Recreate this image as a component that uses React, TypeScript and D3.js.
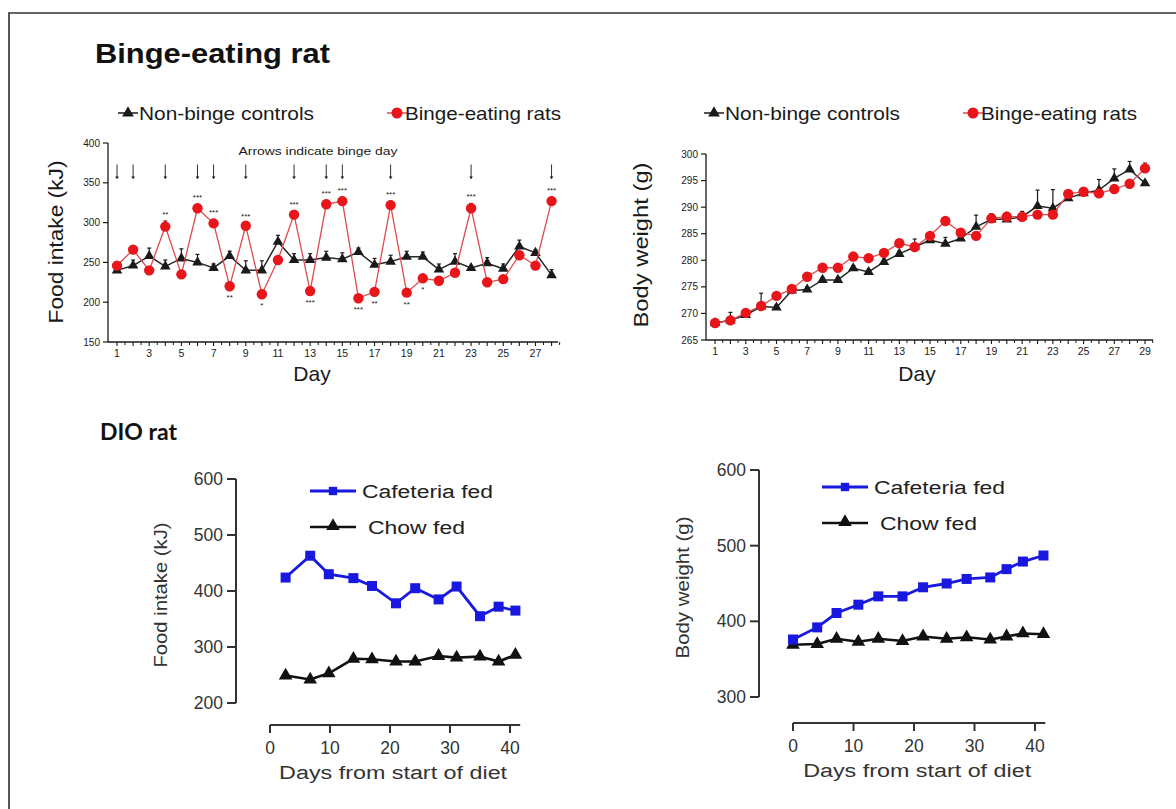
import React from 'react';
import * as d3 from 'd3';

// ---- Binge-eating rat: daily food intake (kJ), days 1-28
const intakeControl = [240, 246, 258, 245, 255, 250, 243, 258, 240, 240, 276, 253, 253, 256, 254, 263, 247, 251, 257, 257, 241, 251, 243, 249, 242, 270, 262, 234];
const intakeControlErr = [4, 7, 10, 8, 12, 10, 5, 6, 12, 12, 8, 8, 8, 8, 8, 5, 8, 8, 7, 6, 7, 10, 3, 7, 6, 8, 4, 7];
const intakeBinge = [246, 266, 240, 295, 235, 318, 299, 220, 296, 210, 253, 310, 214, 323, 327, 205, 213, 322, 212, 230, 227, 237, 318, 225, 229, 259, 246, 327];
const intakeBingeErr = [3, 3, 3, 7, 3, 5, 5, 3, 4, 3, 3, 5, 3, 5, 5, 3, 3, 5, 3, 3, 3, 3, 6, 3, 3, 3, 3, 5];
const bingeDays = [1, 2, 4, 6, 7, 9, 12, 14, 15, 18, 23, 28];
const sigDays = [4, 6, 7, 8, 9, 10, 12, 13, 14, 15, 16, 17, 18, 19, 20, 23, 28];
const sigLabels = ['**', '***', '***', '**', '***', '*', '***', '***', '***', '***', '***', '**', '***', '**', '*', '***', '***'];
const intakeTicks = [150, 200, 250, 300, 350, 400];

// ---- Binge-eating rat: body weight (g), days 1-29
const weightControl = [268.2, 268.7, 269.7, 271.3, 271.1, 274.3, 274.5, 276.3, 276.3, 278.5, 277.8, 279.7, 281.2, 282.5, 283.8, 283.1, 284.1, 286.3, 287.7, 287.7, 288.2, 290.2, 289.8, 291.7, 292.6, 293.2, 295.4, 297.1, 294.5];
const weightControlErr = [0.3, 1.5, 0.5, 2.5, 0.5, 0.5, 0.5, 0.5, 0.5, 0.5, 0.5, 0.5, 0.5, 1.5, 0.6, 1.2, 0.5, 2.2, 1, 1.3, 1, 3, 3.5, 1, 1, 2, 1.8, 1.5, 0.5];
const weightBinge = [268.2, 268.7, 270.1, 271.4, 273.3, 274.6, 276.9, 278.6, 278.6, 280.7, 280.4, 281.4, 283.2, 282.5, 284.6, 287.4, 285.2, 284.6, 287.9, 288.2, 288.2, 288.6, 288.6, 292.5, 292.9, 292.6, 293.4, 294.4, 297.3];
const weightBingeErr = [0.3, 0.5, 0.5, 0.5, 0.5, 0.5, 0.5, 0.5, 0.5, 0.6, 0.6, 0.6, 0.6, 0.5, 0.6, 0.6, 0.5, 0.5, 0.8, 0.8, 0.5, 0.5, 0.5, 0.6, 0.6, 0.5, 0.5, 0.5, 1];
const weightTicks = [265, 270, 275, 280, 285, 290, 295, 300];

// ---- DIO rat
const dioIntakeDays = [2.6, 6.7, 9.8, 13.9, 17, 21, 24.2, 28.1, 31.1, 35, 38.1, 40.9];
const dioIntakeCafeteria = [424, 463, 430, 423, 409, 378, 405, 385, 408, 355, 372, 365];
const dioIntakeChow = [249, 242, 253, 279, 278, 274, 274, 284, 281, 283, 274, 286];
const dioWeightDays = [0, 4, 7.2, 10.8, 14.1, 18.1, 21.5, 25.4, 28.7, 32.6, 35.3, 38, 41.4];
const dioWeightCafeteria = [376, 392, 411, 422, 433, 433, 445, 450, 456, 458, 469, 479, 487];
const dioWeightChow = [369, 370, 377, 373, 377, 374, 380, 377, 379, 376, 380, 384, 383];
const dioIntakeTicks = [200, 300, 400, 500, 600];
const dioWeightTicks = [300, 400, 500, 600];
const dioDayTicks = [0, 10, 20, 30, 40];

const sans = '"Liberation Sans", Arial, sans-serif';
const RED = '#e8151b';
const RED_LINE = '#df4a4e';
const BLUE = '#1818e0';
const INK = '#1a1a1a';

const tri = (size: number) => d3.symbol().type(d3.symbolTriangle).size(size)() as string;
const sq = (size: number) => d3.symbol().type(d3.symbolSquare).size(size)() as string;

type Sc = d3.ScaleLinear<number, number>;

function BingeSeries({ x, y, vals, errs, kind }: { x: Sc; y: Sc; vals: number[]; errs: number[]; kind: 'tri' | 'dot' }) {
  const color = kind === 'tri' ? INK : RED;
  const barColor = kind === 'tri' ? INK : '#7a1010';
  const line = d3.line<number>().x((_, i) => x(i + 1)).y((d) => y(d));
  return (
    <g>
      <path d={line(vals) as string} fill="none" stroke={kind === 'tri' ? '#262626' : RED_LINE} strokeWidth={kind === 'tri' ? 1.5 : 1.3} />
      {vals.map((v, i) => (
        <g key={i}>
          <line x1={x(i + 1)} x2={x(i + 1)} y1={y(v)} y2={y(v + errs[i])} stroke={barColor} strokeWidth={1.2} />
          <line x1={x(i + 1) - 2} x2={x(i + 1) + 2} y1={y(v + errs[i])} y2={y(v + errs[i])} stroke={barColor} strokeWidth={1.2} />
        </g>
      ))}
      {vals.map((v, i) =>
        kind === 'tri' ? (
          <path key={'m' + i} d={tri(48)} transform={`translate(${x(i + 1)},${y(v)})`} fill={color} />
        ) : (
          <circle key={'m' + i} cx={x(i + 1)} cy={y(v)} r={5.2} fill={color} />
        )
      )}
    </g>
  );
}

function BingeAxes({ x, y, yTicks, nDays, xEnd }: { x: Sc; y: Sc; yTicks: number[]; nDays: number; xEnd: number }) {
  const [y0, y1] = y.domain();
  const x0 = x.range()[0];
  const days = d3.range(1, nDays + 1);
  return (
    <g fontFamily={sans} fill={INK}>
      <line x1={x0} x2={x0} y1={y(y0)} y2={y(y1)} stroke={INK} strokeWidth={1.3} />
      <line x1={x0} x2={x(xEnd)} y1={y(y0)} y2={y(y0)} stroke={INK} strokeWidth={1.3} />
      {yTicks.map((t) => (
        <g key={t}>
          <line x1={x0 - 5} x2={x0} y1={y(t)} y2={y(t)} stroke={INK} strokeWidth={1.2} />
          <text x={x0 - 8} y={y(t) + 3.5} fontSize={10} textAnchor="end">{t}</text>
        </g>
      ))}
      {days.map((d) => (
        <g key={d}>
          <line x1={x(d)} x2={x(d)} y1={y(y0)} y2={y(y0) + 4} stroke={INK} strokeWidth={1.1} />
          <line x1={x(d + 0.5)} x2={x(d + 0.5)} y1={y(y0)} y2={y(y0) + 3} stroke={INK} strokeWidth={1} />
          {d % 2 === 1 && (
            <text x={x(d)} y={y(y0) + 15} fontSize={10.5} textAnchor="middle">{d}</text>
          )}
        </g>
      ))}
    </g>
  );
}

function BingeLegend({ cx, bx, ly }: { cx: number; bx: number; ly: number }) {
  return (
    <g fontFamily={sans} fontSize={19} fill={INK}>
      <line x1={cx - 10} x2={cx + 10} y1={ly} y2={ly} stroke={INK} strokeWidth={1.5} />
      <path d={tri(60)} transform={`translate(${cx},${ly})`} fill={INK} />
      <text x={cx + 11} y={ly + 7} textLength={175} lengthAdjust="spacingAndGlyphs">Non-binge controls</text>
      <line x1={bx - 10} x2={bx + 10} y1={ly} y2={ly} stroke={RED_LINE} strokeWidth={1.5} />
      <circle cx={bx} cy={ly} r={5.5} fill={RED} />
      <text x={bx + 8} y={ly + 7} textLength={156} lengthAdjust="spacingAndGlyphs">Binge-eating rats</text>
    </g>
  );
}

function DioPanel({ x, y, days, caf, chow, yTicks, yLabel, yLabelX, yLabelLen, xAxisY, xEnd, legX, legY }: {
  x: Sc; y: Sc; days: number[]; caf: number[]; chow: number[]; yTicks: number[]; yLabel: string; yLabelX: number; yLabelLen: number; xAxisY: number; xEnd: number; legX: number; legY: number;
}) {
  const [yMin, yMax] = y.domain();
  const ax = x.range()[0] - 34;
  const line = d3.line<number>().x((_, i) => x(days[i])).y((d) => y(d));
  const gray = '#333';
  const xMid = (x.range()[0] + x(xEnd)) / 2;
  return (
    <g fontFamily={sans} fill={gray}>
      <line x1={ax} x2={ax} y1={y(yMin)} y2={y(yMax)} stroke={gray} strokeWidth={2} />
      {yTicks.map((t) => (
        <g key={t}>
          <line x1={ax - 9} x2={ax} y1={y(t)} y2={y(t)} stroke={gray} strokeWidth={2} />
          <text x={ax - 13} y={y(t) + 6} fontSize={17.5} textAnchor="end">{t}</text>
        </g>
      ))}
      <line x1={x(0)} x2={x(xEnd)} y1={xAxisY} y2={xAxisY} stroke={gray} strokeWidth={2} />
      {dioDayTicks.map((t) => (
        <g key={t}>
          <line x1={x(t)} x2={x(t)} y1={xAxisY} y2={xAxisY + 8} stroke={gray} strokeWidth={2} />
          <text x={x(t)} y={xAxisY + 29} fontSize={17.5} textAnchor="middle">{t}</text>
        </g>
      ))}
      <text x={xMid - 2} y={xAxisY + 54} fontSize={18} textAnchor="middle" textLength={228} lengthAdjust="spacingAndGlyphs">Days from start of diet</text>
      <text transform={`translate(${yLabelX},${(y(yMin) + y(yMax)) / 2 + 4}) rotate(-90)`} fontSize={18} textAnchor="middle" textLength={yLabelLen} lengthAdjust="spacingAndGlyphs">{yLabel}</text>

      <path d={line(chow) as string} fill="none" stroke="#111" strokeWidth={2.6} />
      {chow.map((v, i) => (
        <path key={'c' + i} d={tri(80)} transform={`translate(${x(days[i])},${y(v)})`} fill="#111" />
      ))}
      <path d={line(caf) as string} fill="none" stroke={BLUE} strokeWidth={2.8} />
      {caf.map((v, i) => (
        <path key={'f' + i} d={sq(100)} transform={`translate(${x(days[i])},${y(v)})`} fill={BLUE} />
      ))}

      <line x1={legX - 23} x2={legX + 23} y1={legY} y2={legY} stroke={BLUE} strokeWidth={2.8} />
      <path d={sq(70)} transform={`translate(${legX},${legY})`} fill={BLUE} />
      <text x={legX + 29} y={legY + 6.5} fontSize={18} fill="#222" textLength={131} lengthAdjust="spacingAndGlyphs">Cafeteria fed</text>
      <line x1={legX - 23} x2={legX + 23} y1={legY + 36} y2={legY + 36} stroke="#111" strokeWidth={2.6} />
      <path d={tri(80)} transform={`translate(${legX},${legY + 35})`} fill="#111" />
      <text x={legX + 35} y={legY + 42.5} fontSize={18} fill="#222" textLength={97} lengthAdjust="spacingAndGlyphs">Chow fed</text>
    </g>
  );
}

export default function App() {
  // top-left: food intake
  const fx = d3.scaleLinear().domain([0.44, 28.4]).range([108, 558]);
  const fy = d3.scaleLinear().domain([150, 400]).range([342, 143]);
  // top-right: body weight
  const wx = d3.scaleLinear().domain([0.41, 29.52]).range([706, 1153]);
  const wy = d3.scaleLinear().domain([265, 300]).range([340, 154]);
  // bottom-left: DIO intake
  const dx1 = d3.scaleLinear().domain([0, 40]).range([270, 510]);
  const dy1 = d3.scaleLinear().domain([200, 600]).range([703, 479]);
  // bottom-right: DIO weight
  const dx2 = d3.scaleLinear().domain([0, 40]).range([793, 1035]);
  const dy2 = d3.scaleLinear().domain([300, 600]).range([697, 470]);

  return (
    <svg width={1176} height={809} style={{ position: 'absolute', left: 0, top: 0, background: '#fff' }}>
      <rect width={1176} height={809} fill="#fff" />
      {/* frame */}
      <line x1={8.5} x2={1176} y1={13} y2={13} stroke="#333" strokeWidth={1.6} />
      <line x1={9} x2={9} y1={12.5} y2={809} stroke="#444" strokeWidth={1.8} />

      <text x={95} y={63} fontFamily={sans} fontWeight="bold" fontSize={27} fill="#111" textLength={235} lengthAdjust="spacingAndGlyphs">Binge-eating rat</text>
      <text x={100} y={440} fontFamily='Lato, "Open Sans", sans-serif' fontWeight="bold" fontSize={23} fill="#111">DIO rat</text>

      {/* top-left: food intake */}
      <BingeLegend cx={128} bx={397} ly={113} />
      <BingeAxes x={fx} y={fy} yTicks={intakeTicks} nDays={28} xEnd={28.4} />
      <text x={318} y={155} fontFamily={sans} fontSize={11} fill={INK} textAnchor="middle" textLength={159} lengthAdjust="spacingAndGlyphs">Arrows indicate binge day</text>
      {bingeDays.map((d) => (
        <g key={d}>
          <line x1={fx(d)} x2={fx(d)} y1={fy(373)} y2={fy(357)} stroke={INK} strokeWidth={0.9} />
          <path d={`M${fx(d) - 1.8},${fy(358)}L${fx(d) + 1.8},${fy(358)}L${fx(d)},${fy(354.5)}Z`} fill={INK} />
        </g>
      ))}
      <BingeSeries x={fx} y={fy} vals={intakeControl} errs={intakeControlErr} kind="tri" />
      <BingeSeries x={fx} y={fy} vals={intakeBinge} errs={intakeBingeErr} kind="dot" />
      {sigDays.map((d, i) => {
        const v = intakeBinge[d - 1];
        const above = v > intakeControl[d - 1];
        const ty = above ? fy(v + intakeBingeErr[d - 1]) - 4 : fy(v) + 14;
        return (
          <text key={d} x={fx(d)} y={ty} fontFamily={sans} fontSize={8} fill={INK} textAnchor="middle">{sigLabels[i]}</text>
        );
      })}
      <text transform={`translate(${63},${242}) rotate(-90)`} fontFamily={sans} fontSize={21} fill={INK} textAnchor="middle" textLength={163} lengthAdjust="spacingAndGlyphs">Food intake (kJ)</text>
      <text x={312} y={381} fontFamily={sans} fontSize={21} fill={INK} textAnchor="middle">Day</text>

      {/* top-right: body weight */}
      <BingeLegend cx={714} bx={973} ly={113} />
      <BingeAxes x={wx} y={wy} yTicks={weightTicks} nDays={29} xEnd={29.52} />
      <BingeSeries x={wx} y={wy} vals={weightControl} errs={weightControlErr} kind="tri" />
      <BingeSeries x={wx} y={wy} vals={weightBinge} errs={weightBingeErr} kind="dot" />
      <text transform={`translate(${648},${245}) rotate(-90)`} fontFamily={sans} fontSize={21} fill={INK} textAnchor="middle" textLength={165} lengthAdjust="spacingAndGlyphs">Body weight (g)</text>
      <text x={917} y={381} fontFamily={sans} fontSize={21} fill={INK} textAnchor="middle">Day</text>

      {/* bottom-left: DIO food intake */}
      <DioPanel x={dx1} y={dy1} days={dioIntakeDays} caf={dioIntakeCafeteria} chow={dioIntakeChow} yTicks={dioIntakeTicks}
        yLabel="Food intake (kJ)" yLabelX={167} yLabelLen={145} xAxisY={725} xEnd={41.7} legX={333} legY={491} />
      {/* bottom-right: DIO body weight */}
      <DioPanel x={dx2} y={dy2} days={dioWeightDays} caf={dioWeightCafeteria} chow={dioWeightChow} yTicks={dioWeightTicks}
        yLabel="Body weight (g)" yLabelX={689} yLabelLen={142} xAxisY={723} xEnd={41.7} legX={845} legY={487} />
    </svg>
  );
}
